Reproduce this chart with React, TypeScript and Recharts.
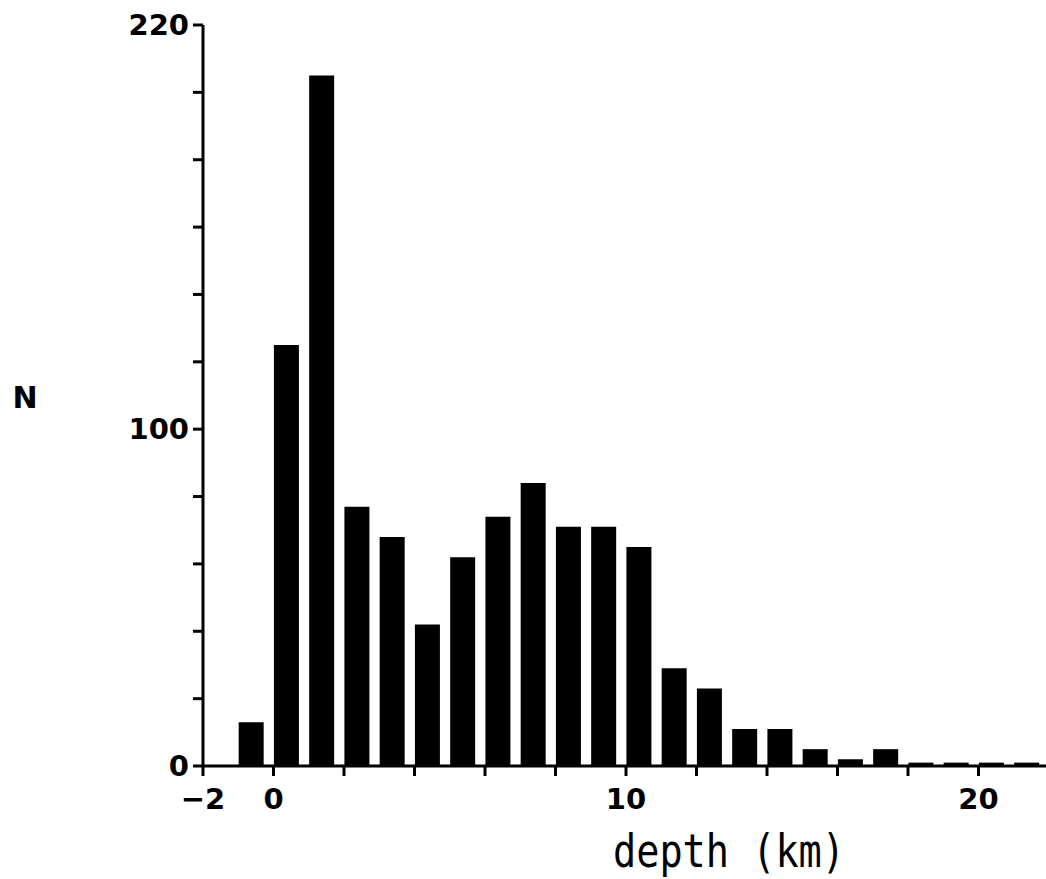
import { BarChart, Bar, XAxis, YAxis, Label } from "recharts";

// 1 km depth bins, each bar sits at the left of its bin
const binStart = [-1, 0, 1, 2, 3, 4, 5, 6, 7, 8, 9, 10, 11, 12, 13, 14, 15, 16, 17, 18, 19, 20, 21];
const counts = [13, 125, 205, 77, 68, 42, 62, 74, 84, 71, 71, 65, 29, 23, 11, 11, 5, 2, 5, 1, 1, 1, 1];

const xTicks = [-2, 0, 2, 4, 6, 8, 10, 12, 14, 16, 18, 20];
const xLabelled = [-2, 0, 10, 20];
const yTicks = [0, 20, 40, 60, 80, 100, 120, 140, 160, 180, 200, 220];
const yLabelled = [0, 100, 220];

const BAR_SHIFT = 0.37;

const data = binStart.map((start, i) => ({ start, mid: start + BAR_SHIFT, n: counts[i] }));

const tickFont = {
  fill: "#000",
  fontFamily: "DejaVu Sans",
  fontWeight: "bold",
  fontSize: 29,
};
const line = { stroke: "#000", strokeWidth: 3 };

const fmtX = (v: number) => (xLabelled.includes(v) ? String(v).replace("-", "\u2212") : "");
const fmtY = (v: number) => (yLabelled.includes(v) ? String(v) : "");

export default function App() {
  return (
    <div
      style={{
        position: "absolute",
        left: 0,
        top: 0,
        width: 1046,
        height: 879,
        overflow: "hidden",
        background: "#fff",
      }}
    >
      <BarChart width={1060} height={879} data={data} margin={{ top: 25, right: 11, bottom: 0, left: 0 }}>
        <XAxis
          type="number"
          dataKey="mid"
          domain={[-2, 22]}
          ticks={xTicks}
          interval={0}
          height={113}
          tick={tickFont}
          tickFormatter={fmtX}
          tickSize={10}
          tickMargin={12}
          axisLine={line}
          tickLine={line}
        >
          <Label
            content={() => (
              <text
                x={613}
                y={867}
                fontFamily="DejaVu Sans Mono"
                fontSize={47}
                textLength={232}
                lengthAdjust="spacingAndGlyphs"
                fill="#000"
              >
                depth (km)
              </text>
            )}
          />
        </XAxis>
        <YAxis
          type="number"
          domain={[0, 220]}
          ticks={yTicks}
          interval={0}
          width={203}
          tick={tickFont}
          tickFormatter={fmtY}
          tickSize={10}
          tickMargin={4}
          axisLine={line}
          tickLine={line}
        >
          <Label
            content={() => (
              <text
                x={25}
                y={397}
                textAnchor="middle"
                dominantBaseline="central"
                fontFamily="DejaVu Sans"
                fontWeight="bold"
                fontSize={30}
                fill="#000"
              >
                N
              </text>
            )}
          />
        </YAxis>
        <Bar dataKey="n" fill="#000" barSize={25} isAnimationActive={false} />
      </BarChart>
    </div>
  );
}
